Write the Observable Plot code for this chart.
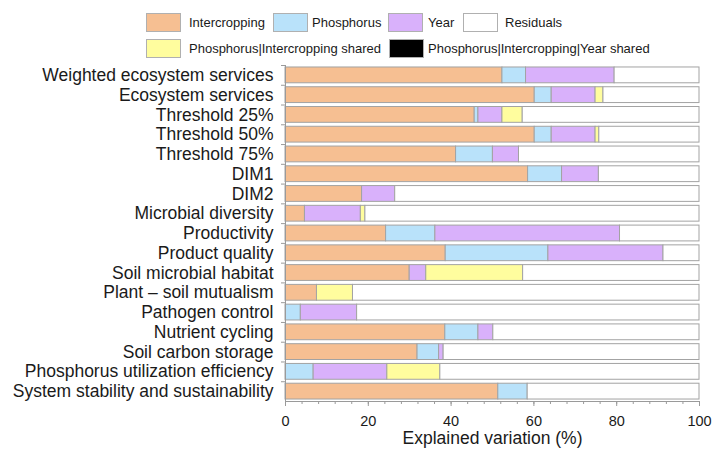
<!DOCTYPE html>
<html><head><meta charset="utf-8">
<script src="https://cdn.jsdelivr.net/npm/d3@7"></script>
<script src="https://cdn.jsdelivr.net/npm/@observablehq/plot@0.6"></script>
<style>
body{margin:0;background:#fff;font-family:"Liberation Sans",Arial,sans-serif;}
#legend{position:relative;height:60px;width:712px;}
.sw{position:absolute;width:35px;height:19px;border:1px solid #b0b0b0;box-sizing:border-box}
.lt{position:absolute;font-size:13px;color:#1a1a1a;line-height:19px;white-space:nowrap}
#chart svg{display:block}
</style></head><body>
<div id="legend"></div><div id="chart"></div>
<script>
const categories = ["Weighted ecosystem services","Ecosystem services","Threshold 25%","Threshold 50%","Threshold 75%","DIM1","DIM2","Microbial diversity","Productivity","Product quality","Soil microbial habitat","Plant \u2013 soil mutualism","Pathogen control","Nutrient cycling","Soil carbon storage","Phosphorus utilization efficiency","System stability and sustainability"];
const intercropping = [52.4,60.2,45.7,60.2,41.2,58.6,18.5,4.7,24.3,38.7,30.0,7.6,0,38.6,31.9,0,51.4];
const phosphorus   = [5.7,4.1,0.9,4.1,8.9,8.2,0,0,11.9,24.8,0,0,3.7,8.0,5.2,6.8,7.1];
const year         = [21.4,10.6,5.8,10.6,6.3,8.9,8.0,13.5,44.6,27.8,4.0,0,13.6,3.6,1.1,17.8,0];
const phosInterShared = [0,1.9,4.9,0.9,0,0,0,1.1,0,0,23.4,8.7,0,0,0,12.8,0];
const phosInterYearShared = [0,0,0,0,0,0,0,0,0,0,0,0,0,0,0,0,0];
const residuals    = [20.5,23.2,42.7,24.2,43.6,24.3,73.5,80.7,19.2,8.7,42.6,83.7,82.7,49.8,61.8,62.6,41.5];
const xTicks = [0,20,40,60,80,100];
const xMinorTicks = [0,4,8,12,16,20,24,28,32,36,40,44,48,52,56,60,64,68,72,76,80,84,88,92,96,100];

const seriesNames = ["Intercropping","Phosphorus","Year","Phosphorus|Intercropping shared","Phosphorus|Intercropping|Year shared","Residuals"];
const seriesColors = ["#f6bf92","#b9e2fa","#d9b1fb","#fffd9e","#000000","#ffffff"];
const seriesValues = [intercropping,phosphorus,year,phosInterShared,phosInterYearShared,residuals];

const rows = [];
categories.forEach((c,i)=>{
  seriesNames.forEach((s,j)=>{
    const v = seriesValues[j][i];
    if (v > 0) rows.push({cat:c, series:s, value:v});
  });
});

// Legend (HTML, above the SVG)
const legendItems = [
  {name:"Intercropping", color:seriesColors[0], sx:146, tx:189, y:13},
  {name:"Phosphorus", color:seriesColors[1], sx:273, tx:312, y:13},
  {name:"Year", color:seriesColors[2], sx:388, tx:428, y:13},
  {name:"Residuals", color:seriesColors[5], sx:463, tx:505, y:13},
  {name:"Phosphorus|Intercropping shared", color:seriesColors[3], sx:146, tx:189, y:39},
  {name:"Phosphorus|Intercropping|Year shared", color:seriesColors[4], sx:389, tx:428, y:39}
];
const leg = document.getElementById("legend");
legendItems.forEach(d=>{
  const s = document.createElement("div"); s.className="sw";
  s.style.left=d.sx+"px"; s.style.top=d.y+"px"; s.style.background=d.color;
  leg.appendChild(s);
  const t = document.createElement("div"); t.className="lt";
  t.style.left=d.tx+"px"; t.style.top=d.y+"px"; t.textContent=d.name;
  leg.appendChild(t);
});

const H = 391, mTop = 5, mBottom = 50;
const step = (H - mTop - mBottom) / categories.length;

const chart = Plot.plot({
  width: 712, height: H,
  marginTop: mTop, marginBottom: mBottom, marginLeft: 285, marginRight: 13,
  style: {fontFamily: "'Liberation Sans', Arial, sans-serif", color: "#1a1a1a", background: "#fff"},
  x: {domain: [0,100], axis: null, label: null},
  y: {domain: categories, paddingInner: 0.2, paddingOuter: 0.1, round: false, axis: null, label: null},
  color: {domain: seriesNames, range: seriesColors},
  marks: [
    Plot.barX(rows, {y: "cat", x: "value", fill: "series", order: seriesNames, stroke: "#a3a3a3", strokeWidth: 1}),
    Plot.frame({anchor: "bottom", stroke: "#9a9a9a"}),
    Plot.frame({anchor: "left", stroke: "#9a9a9a"}),
    Plot.axisX({ticks: xMinorTicks, tickSize: 3, tickFormat: null, stroke: "#9a9a9a", text: null, label: null}),
    Plot.axisX({ticks: xTicks, tickSize: 5, tickPadding: 9, fontSize: 14.5, stroke: "#9a9a9a", label: null}),
    Plot.axisY({tickSize: 4, tickFormat: null, text: null, stroke: "#9a9a9a", dy: -step/2, label: null}),
    Plot.axisY({tickSize: 0, tickPadding: 12, fontSize: 17.5, label: null}),
    Plot.text(["Explained variation (%)"], {x: 50, frameAnchor: "bottom", dy: 42, fontSize: 17.5})
  ]
});
document.getElementById("chart").appendChild(chart);
</script>
</body></html>
